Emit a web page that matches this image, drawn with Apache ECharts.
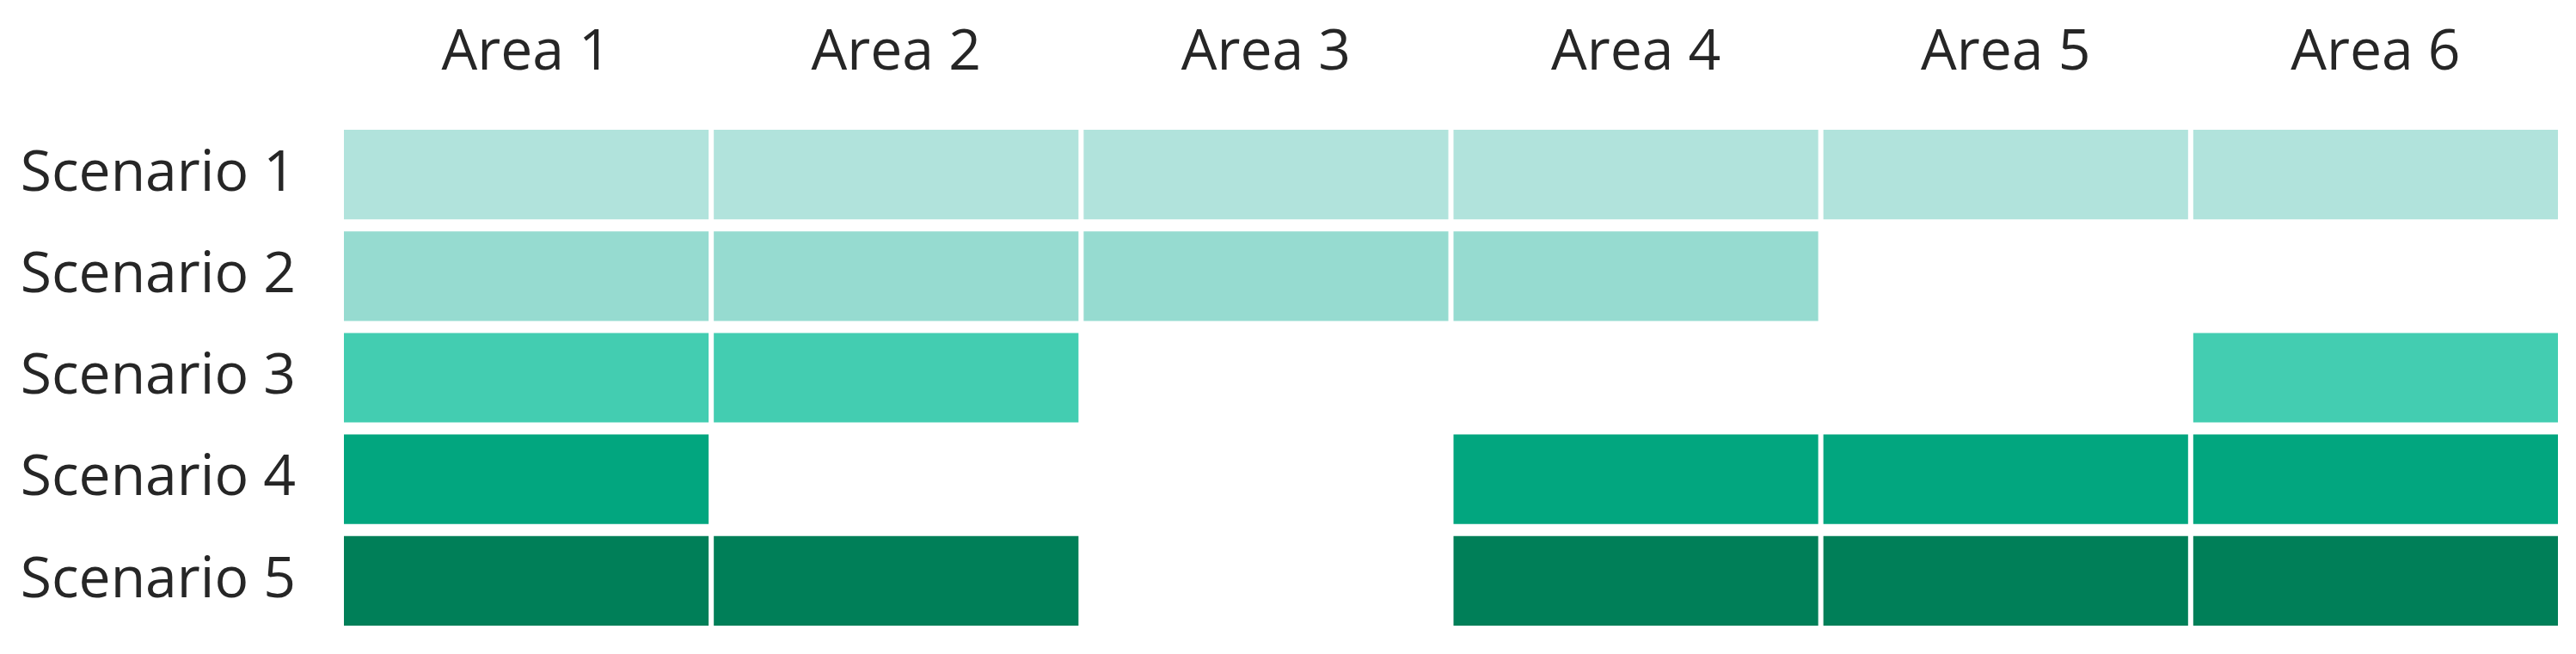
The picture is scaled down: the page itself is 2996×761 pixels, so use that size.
<!DOCTYPE html>
<html>
<head>
<meta charset="utf-8">
<style>
  html, body { margin: 0; padding: 0; background: #fff; }
  #chart { width: 2996px; height: 761px; }
</style>
<script src="https://cdn.jsdelivr.net/npm/echarts@6/dist/echarts.min.js"></script>
</head>
<body>
<div id="chart"></div>
<script>
// categories
var areas = ["Area 1", "Area 2", "Area 3", "Area 4", "Area 5", "Area 6"];
var scenarios = ["Scenario 1", "Scenario 2", "Scenario 3", "Scenario 4", "Scenario 5"];

// which areas are covered in each scenario (1 = yes, 0 = no)
var scenario1 = [1, 1, 1, 1, 1, 1];
var scenario2 = [1, 1, 1, 1, 0, 0];
var scenario3 = [1, 1, 0, 0, 0, 1];
var scenario4 = [1, 0, 0, 1, 1, 1];
var scenario5 = [1, 1, 0, 1, 1, 1];

var scenarioColors = ["#b1e3dc", "#96dbd0", "#43cdb1", "#02a67f", "#007f58"];

// build the cell list [areaIndex, scenarioIndex]
var rows = [scenario1, scenario2, scenario3, scenario4, scenario5];
var cells = [];
rows.forEach(function (row, s) {
  row.forEach(function (v, a) {
    if (v) cells.push([a, s]);
  });
});

var chart = echarts.init(document.getElementById("chart"));

var option = {
  animation: false,
  textStyle: { fontFamily: "Open Sans" },
  grid: { left: 397, right: 18, top: 144, bottom: 26 },
  xAxis: {
    type: "category",
    position: "top",
    data: areas,
    axisLine: { show: false },
    axisTick: { show: false },
    splitLine: { show: false },
    axisLabel: {
      fontSize: 66,
      color: "#262626",
      margin: 82,
      verticalAlign: "middle"
    }
  },
  yAxis: {
    type: "category",
    inverse: true,
    data: scenarios,
    axisLine: { show: false },
    axisTick: { show: false },
    splitLine: { show: false },
    axisLabel: {
      fontSize: 66,
      color: "#262626",
      margin: 53
    }
  },
  series: [
    {
      type: "custom",
      data: cells,
      encode: { x: 0, y: 1 },
      renderItem: function (params, api) {
        var p = api.coord([api.value(0), api.value(1)]);
        var size = api.size([1, 1]);
        var w = size[0] - 6;
        var h = size[1] - 14;
        return {
          type: "rect",
          shape: { x: p[0] - w / 2, y: p[1] - h / 2, width: w, height: h },
          style: { fill: scenarioColors[api.value(1)] }
        };
      }
    }
  ]
};

chart.setOption(option);
</script>
</body>
</html>
